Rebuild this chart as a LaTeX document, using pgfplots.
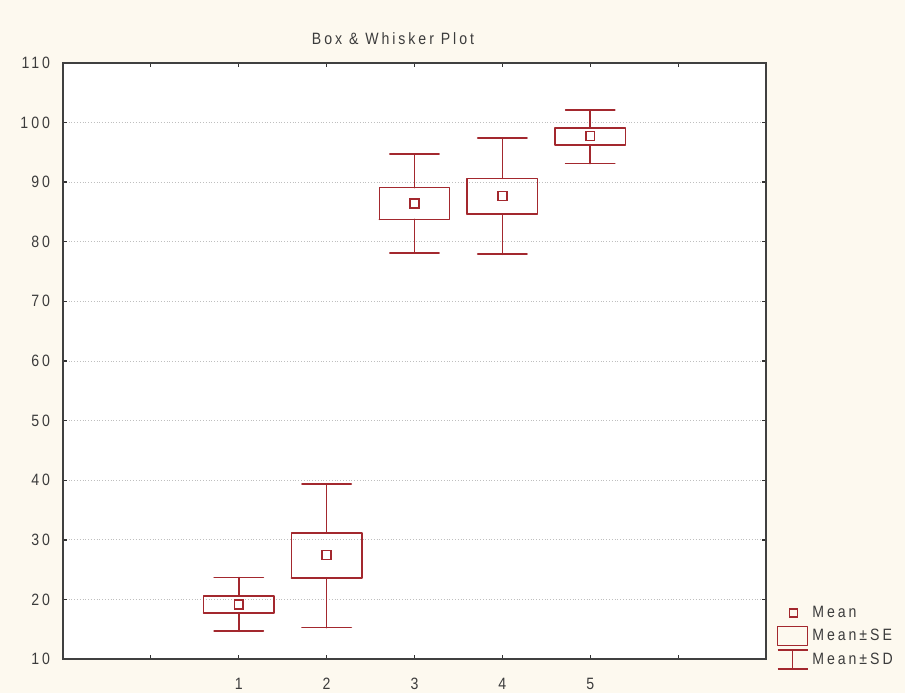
\documentclass[border=0pt]{standalone}
\usepackage{pgfplots}
\pgfplotsset{compat=1.18}
\usepackage{fontspec}
\setmainfont{Liberation Sans}[LetterSpace=18, FakeStretch=0.86]
\definecolor{cream}{HTML}{FDF9EF}
\definecolor{boxred}{HTML}{A3282E}
\definecolor{txt}{HTML}{3C3C3C}
\begin{document}
\begin{tikzpicture}[x=1pt,y=1pt]
\fill[cream] (0,0) rectangle (452.5,346.5);
\useasboundingbox (0,0) rectangle (452.5,346.5);
\node[font=\fontsize{8.2}{9}\selectfont, text=txt, anchor=center] at (196.5,327) {Box \& Whisker Plot};
\begin{axis}[
  at={(31.5pt,16.85pt)}, anchor=south west,
  scale only axis, width=351.5pt, height=298.3pt,
  xmin=-1, xmax=7, ymin=10, ymax=110,
  xtick={0,1,2,3,4,5,6},
  xticklabels={,1,2,3,4,5,},
  ytick={10,20,...,110},
  tick align=inside,
  major tick length=2pt,
  tick style={black!80, line width=0.6pt},
  axis line style={black!75, line width=0.9pt},
  axis background/.style={fill=white},
  ymajorgrids,
  grid style={densely dotted, black!25, line width=0.5pt},
  ticklabel style={font=\fontsize{8.2}{9}\selectfont, text=txt},
  /pgf/number format/assume math mode=true,
  yticklabel style={xshift=-3pt},
  xticklabel style={yshift=-6pt},
  legend style={at={(1.012,-0.024)}, anchor=south west, draw=none, fill=none,
    font=\fontsize{8.2}{9}\selectfont, text=txt, row sep=0.5pt, inner sep=1pt,
    nodes={inner sep=2pt}},
  legend cell align=left,
  unbounded coords=jump,
  bx/.style={boxred, line width=0.8pt, mark=none, line join=round, line cap=round, forget plot},
]
\addlegendimage{legend image code/.code={\draw[boxred, line width=0.8pt] (2.5pt,-1.8pt) rectangle (6.5pt,2.2pt);}}
\addlegendentry{Mean}
\addlegendimage{legend image code/.code={\draw[boxred, line width=0.8pt, line join=round] (-3.5pt,-4.5pt) rectangle (11.5pt,5pt);}}
\addlegendentry{Mean±SE}
\addlegendimage{legend image code/.code={\draw[boxred, line width=0.8pt] (-3.5pt,5pt) -- (11.5pt,5pt) (4pt,5pt) -- (4pt,-4.5pt) (-3.5pt,-4.5pt) -- (11.5pt,-4.5pt);}}
\addlegendentry{Mean±SD}

% Mean +- SD whiskers (outside the SE box)
\addplot[bx] coordinates {(0.72,14.7) (1.28,14.7) (1,nan) (1,14.7) (1,17.8) (1,nan) (1,20.6) (1,23.7) (1,nan) (0.72,23.7) (1.28,23.7)};
\addplot[bx] coordinates {(1.72,15.3) (2.28,15.3) (2,nan) (2,15.3) (2,23.6) (2,nan) (2,31.2) (2,39.4) (2,nan) (1.72,39.4) (2.28,39.4)};
\addplot[bx] coordinates {(2.72,78.1) (3.28,78.1) (3,nan) (3,78.1) (3,83.75) (3,nan) (3,89.05) (3,94.7) (3,nan) (2.72,94.7) (3.28,94.7)};
\addplot[bx] coordinates {(3.72,77.9) (4.28,77.9) (4,nan) (4,77.9) (4,84.6) (4,nan) (4,90.6) (4,97.4) (4,nan) (3.72,97.4) (4.28,97.4)};
\addplot[bx] coordinates {(4.72,93.1) (5.28,93.1) (5,nan) (5,93.1) (5,96.2) (5,nan) (5,99.05) (5,102.1) (5,nan) (4.72,102.1) (5.28,102.1)};
% Mean +- SE boxes
\addplot[bx] coordinates {(0.6,17.8) (1.4,17.8) (1.4,20.6) (0.6,20.6) (0.6,17.8)};
\addplot[bx] coordinates {(1.6,23.6) (2.4,23.6) (2.4,31.2) (1.6,31.2) (1.6,23.6)};
\addplot[bx] coordinates {(2.6,83.75) (3.4,83.75) (3.4,89.05) (2.6,89.05) (2.6,83.75)};
\addplot[bx] coordinates {(3.6,84.6) (4.4,84.6) (4.4,90.6) (3.6,90.6) (3.6,84.6)};
\addplot[bx] coordinates {(4.6,96.2) (5.4,96.2) (5.4,99.05) (4.6,99.05) (4.6,96.2)};
% Means
\addplot[only marks, forget plot, mark=square, mark size=2.2pt, mark options={boxred, line width=0.8pt, solid}]
  coordinates {(1,19.2) (2,27.5) (3,86.4) (4,87.66) (5,97.7)};
\end{axis}
\end{tikzpicture}
\end{document}
